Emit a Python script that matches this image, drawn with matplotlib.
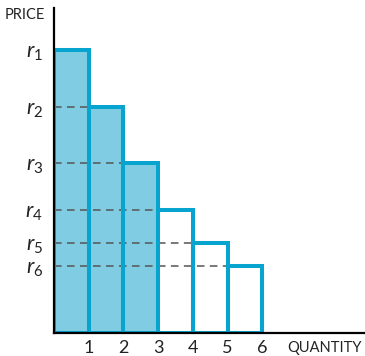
import numpy as np
import matplotlib
matplotlib.use("Agg")
import matplotlib.pyplot as plt

# step demand curve: quantity units and reservation prices
quantities = [1, 2, 3, 4, 5, 6]
prices = [8.15, 6.51, 4.90, 3.54, 2.59, 1.93]
price_labels = ["$r_1$", "$r_2$", "$r_3$", "$r_4$", "$r_5$", "$r_6$"]
n_shaded = 3

plt.rcParams['font.family'] = ['Lato', 'DejaVu Sans']
plt.rcParams['mathtext.fontset'] = 'custom'
plt.rcParams['mathtext.it'] = 'Lato:italic'
plt.rcParams['mathtext.rm'] = 'Lato'

fill_col = "#80cde3"
edge_col = "#07a4cf"

fig = plt.figure(figsize=(3.65, 3.56), dpi=100)
ax = fig.add_axes([54 / 365, 23 / 356, 311 / 365, 325 / 356])

left = np.array(quantities) - 1
heights = np.array(prices)

# fill for the first three units
ax.bar(left[:n_shaded], heights[:n_shaded], width=1, align='edge',
       color=fill_col, linewidth=0, zorder=1)

# dashed guides from the price axis to each step
ax.hlines(heights[1:], 0, left[1:], colors="#555555", linewidth=1.1,
          linestyles=(0, (5, 3.5)), zorder=2)

# outlines of every step
ax.bar(left, heights, width=1, align='edge', fill=False,
       edgecolor=edge_col, linewidth=2.9, zorder=3)

ax.set_xlim(0, 8.96)
ax.set_ylim(0, 9.37)

ax.set_xticks(quantities)
ax.set_xticklabels([str(q) for q in quantities], fontsize=13)
ax.set_yticks(prices)
ax.set_yticklabels(price_labels, fontsize=15.5)
ax.tick_params(axis='both', length=0, colors='#222222')
ax.tick_params(axis='x', pad=5)
ax.tick_params(axis='y', pad=8)

for side in ['top', 'right']:
    ax.spines[side].set_visible(False)
for side in ['left', 'bottom']:
    ax.spines[side].set_linewidth(1.6)
    ax.spines[side].set_zorder(5)

fig.text(287 / 365, 1 - 348 / 356, "QUANTITY", fontsize=10.5, va='center',
         color='#222222')
fig.text(5 / 365, 1 - 15 / 356, "PRICE", fontsize=10.5, va='center',
         color='#222222')

fig.savefig("out.png", dpi=100)
